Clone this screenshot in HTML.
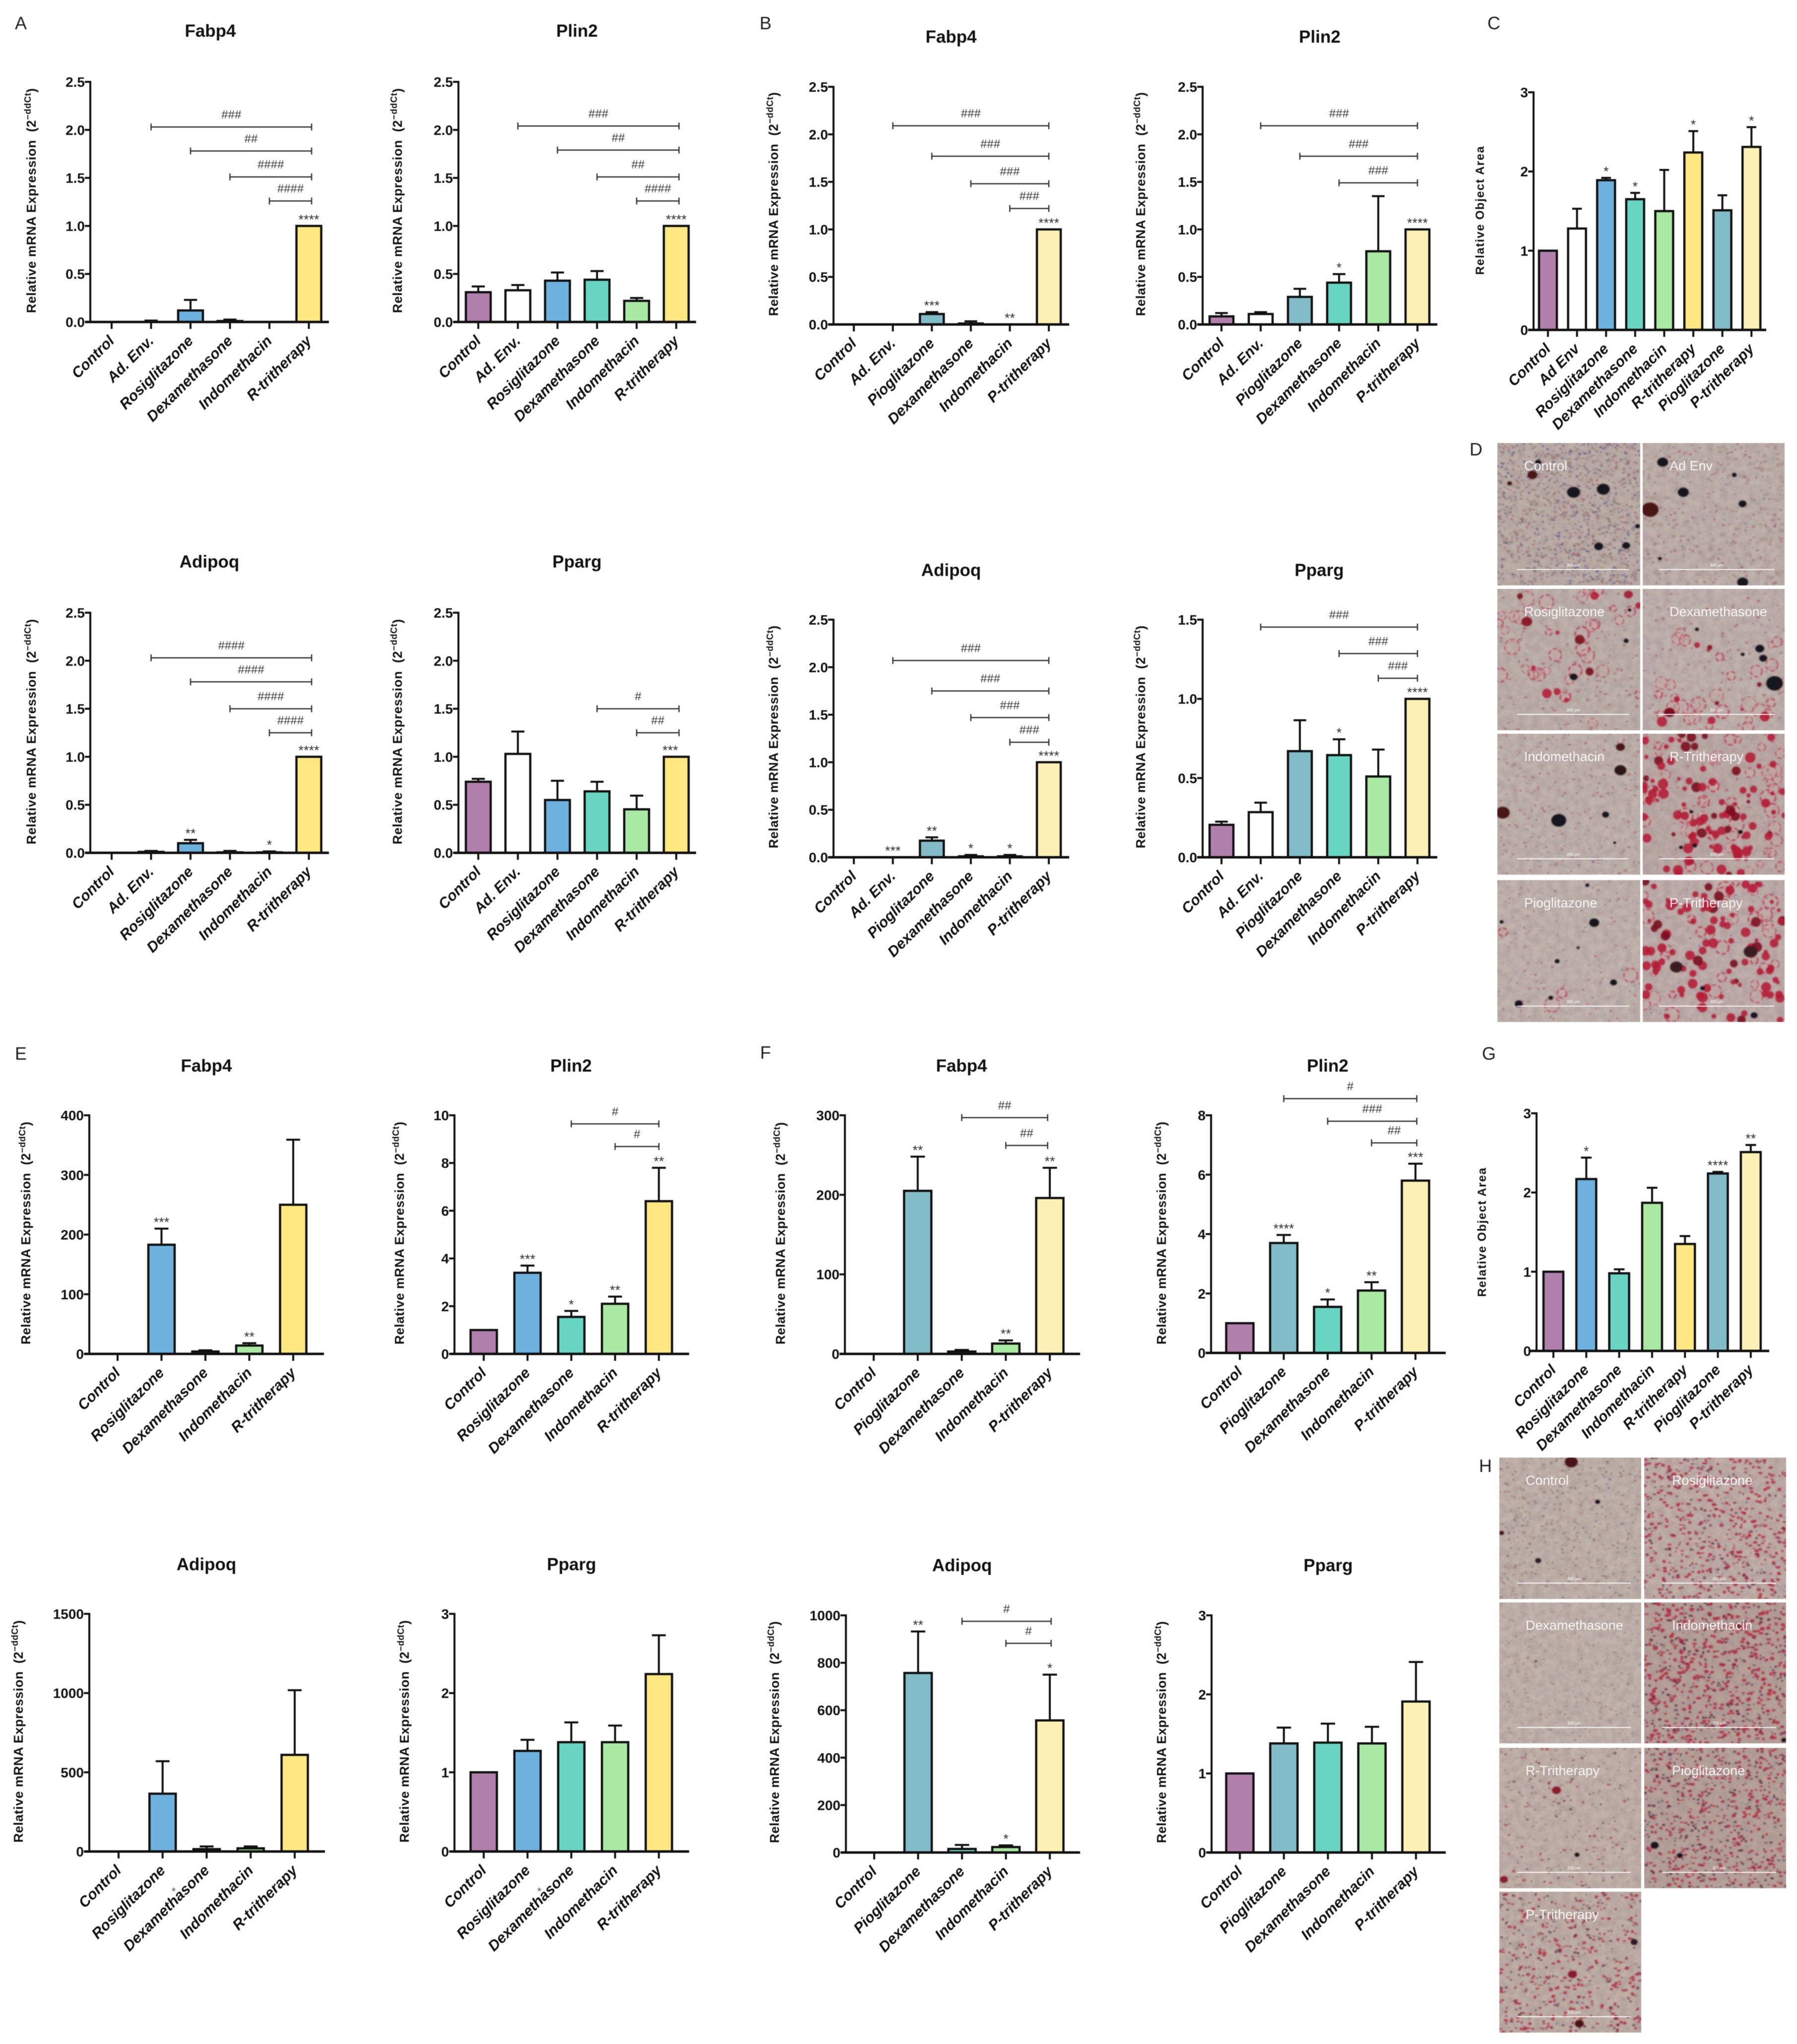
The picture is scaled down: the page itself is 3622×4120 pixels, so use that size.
<!DOCTYPE html>
<html lang="en">
<head>
<meta charset="utf-8">
<title>Adipogenesis gene expression figure</title>
<style>
html,body{margin:0;padding:0;background:#fff}
#figure{display:block;filter:blur(.6px)}
text{font-family:"Liberation Sans",sans-serif}
</style>
</head>
<body>
<svg id="figure" xmlns="http://www.w3.org/2000/svg" width="3622" height="4120" viewBox="0 0 3622 4120">
<defs>
<filter id="photoBlur" x="-5%" y="-5%" width="110%" height="110%"><feGaussianBlur stdDeviation="1.3"/></filter>
<filter id="grain" x="0" y="0" width="100%" height="100%">
<feTurbulence type="fractalNoise" baseFrequency="0.07" numOctaves="3" seed="4"/>
<feColorMatrix type="matrix" values="0 0 0 0 0.33  0 0 0 0 0.24  0 0 0 0 0.26  1.4 0 0 0 -0.42"/>
</filter>
</defs>
<rect width="3622" height="4120" fill="#fff"/>
<text x="30" y="59" font-size="36" fill="#222">A</text>
<text x="1531" y="59" font-size="36" fill="#222">B</text>
<text x="2998" y="59" font-size="36" fill="#222">C</text>
<text x="2962" y="918" font-size="36" fill="#222">D</text>
<text x="30" y="2136" font-size="36" fill="#222">E</text>
<text x="1532" y="2134" font-size="36" fill="#222">F</text>
<text x="2987" y="2136" font-size="36" fill="#222">G</text>
<text x="2981" y="2967" font-size="36" fill="#222">H</text>
<g id="charts"></g>
<g id="photos"></g>
</svg>
<script>
/* ---------- categories ---------- */
const rCategories = ['Control','Ad. Env.','Rosiglitazone','Dexamethasone','Indomethacin','R-tritherapy'];
const pCategories = ['Control','Ad. Env.','Pioglitazone','Dexamethasone','Indomethacin','P-tritherapy'];
const cCategories = ['Control','Ad Env','Rosiglitazone','Dexamethasone','Indomethacin','R-tritherapy','Pioglitazone','P-tritherapy'];
const eCategories = ['Control','Rosiglitazone','Dexamethasone','Indomethacin','R-tritherapy'];
const fCategories = ['Control','Pioglitazone','Dexamethasone','Indomethacin','P-tritherapy'];
const gCategories = ['Control','Rosiglitazone','Dexamethasone','Indomethacin','R-tritherapy','Pioglitazone','P-tritherapy'];

/* ---------- y tick labels ---------- */
const ticks2p5 = ['0.0','0.5','1.0','1.5','2.0','2.5'];
const ticks1p5 = ['0.0','0.5','1.0','1.5'];
const ticks3 = ['0','1','2','3'];
const ticks400 = ['0','100','200','300','400'];
const ticks300 = ['0','100','200','300'];
const ticks10 = ['0','2','4','6','8','10'];
const ticks8 = ['0','2','4','6','8'];
const ticks1500 = ['0','500','1000','1500'];
const ticks1000 = ['0','200','400','600','800','1000'];

/* ---------- series values, error magnitudes ---------- */
const aFabp4Values = [0,0,0.12,0.01,0,1];
const aFabp4Errors = [0,0.015,0.11,0.015,0,0];
const aPlin2Values = [0.31,0.33,0.43,0.44,0.22,1];
const aPlin2Errors = [0.06,0.055,0.085,0.09,0.03,0];
const aAdipoqValues = [0,0.01,0.10,0.005,0.005,1];
const aAdipoqErrors = [0,0.01,0.035,0.015,0.01,0];
const aPpargValues = [0.74,1.03,0.55,0.64,0.453,1];
const aPpargErrors = [0.03,0.233,0.20,0.10,0.142,0];
const bFabp4Values = [0,0,0.11,0.01,0,1];
const bFabp4Errors = [0,0,0.02,0.023,0,0];
const bPlin2Values = [0.085,0.11,0.29,0.44,0.77,1];
const bPlin2Errors = [0.035,0.02,0.085,0.09,0.58,0];
const bAdipoqValues = [0,0,0.175,0.01,0.01,1];
const bAdipoqErrors = [0,0,0.035,0.015,0.015,0];
const bPpargValues = [0.205,0.285,0.67,0.645,0.51,1];
const bPpargErrors = [0.02,0.06,0.195,0.10,0.17,0];
const cAreaValues = [1,1.28,1.89,1.65,1.5,2.24,1.51,2.31];
const cAreaErrors = [0,0.25,0.03,0.08,0.52,0.27,0.19,0.25];
const eFabp4Values = [0,183,4,14,250];
const eFabp4Errors = [0,27,2,4,109];
const ePlin2Values = [1,3.4,1.55,2.1,6.4];
const ePlin2Errors = [0,0.3,0.25,0.3,1.4];
const eAdipoqValues = [0,365,15,20,610];
const eAdipoqErrors = [0,205,17,12,408];
const ePpargValues = [1,1.27,1.38,1.38,2.24];
const ePpargErrors = [0,0.14,0.25,0.21,0.49];
const fFabp4Values = [0,205,3,13,196];
const fFabp4Errors = [0,43,2,4,38];
const fPlin2Values = [1,3.7,1.55,2.1,5.8];
const fPlin2Errors = [0,0.27,0.25,0.28,0.57];
const fAdipoqValues = [0,757,15,23,557];
const fAdipoqErrors = [0,175,17,7,193];
const fPpargValues = [1,1.38,1.39,1.38,1.91];
const fPpargErrors = [0,0.2,0.24,0.21,0.5];
const gAreaValues = [1,2.17,0.98,1.87,1.35,2.24,2.51];
const gAreaErrors = [0,0.27,0.05,0.19,0.1,0.02,0.09];

/* ---------- significance: [fromCategory, toCategory, yValue, label] ---------- */
const aFabp4Brackets = [[1,5.07,2.03,'###'],[2,5.07,1.78,'##'],[3,5.07,1.51,'####'],[4,5.07,1.26,'####']];
const aPlin2Brackets = [[1,5.07,2.04,'###'],[2,5.07,1.79,'##'],[3,5.07,1.51,'##'],[4,5.07,1.26,'####']];
const aAdipoqBrackets = [[1,5.07,2.03,'####'],[2,5.07,1.78,'####'],[3,5.07,1.5,'####'],[4,5.07,1.25,'####']];
const aPpargBrackets = [[3,5.07,1.5,'#'],[4,5.07,1.25,'##']];
const bFabp4Brackets = [[1,5,2.09,'###'],[2,5,1.77,'###'],[3,5,1.48,'###'],[4,5,1.22,'###']];
const bPlin2Brackets = [[1,5,2.09,'###'],[2,5,1.77,'###'],[3,5,1.49,'###']];
const bAdipoqBrackets = [[1,5,2.07,'###'],[2,5,1.75,'###'],[3,5,1.47,'###'],[4,5,1.21,'###']];
const bPpargBrackets = [[1,5,1.453,'###'],[3,5,1.286,'###'],[4,5,1.13,'###']];
const ePlin2Brackets = [[2,4,9.64,'#'],[3,4,8.69,'#']];
const fFabp4Brackets = [[2,3.95,297,'##'],[3,3.95,262,'##']];
const fPlin2Brackets = [[1,4.03,8.56,'#'],[2,4.03,7.8,'###'],[3,4.03,7.07,'##']];
const fAdipoqBrackets = [[2,4.03,975,'#'],[3,4.03,882,'#']];

/* ---------- asterisks: [category, label] ---------- */
const aFabp4Stars = [[5,'****']];
const aPlin2Stars = [[5,'****']];
const aAdipoqStars = [[2,'**'],[4,'*'],[5,'****']];
const aPpargStars = [[4.85,'***']];
const bFabp4Stars = [[2,'***'],[4,'**'],[5,'****']];
const bPlin2Stars = [[3,'*'],[5,'****']];
const bAdipoqStars = [[1,'***'],[2,'**'],[3,'*'],[4,'*'],[5,'****']];
const bPpargStars = [[3,'*'],[5,'****']];
const cAreaStars = [[2,'*'],[3,'*'],[5,'*'],[7,'*']];
const eFabp4Stars = [[1,'***'],[3,'**']];
const ePlin2Stars = [[1,'***'],[2,'*'],[3,'**'],[4,'**']];
const fFabp4Stars = [[1,'**'],[3,'**'],[4,'**']];
const fPlin2Stars = [[1,'****'],[2,'*'],[3,'**'],[4,'***']];
const fAdipoqStars = [[1,'**'],[3,'*'],[4,'*']];
const gAreaStars = [[1,'*'],[5,'****'],[6,'**']];

/* ---------- styling ---------- */
const barFills = {
  'Control':'#b07fac','Ad. Env.':'#ffffff','Ad Env':'#ffffff','Rosiglitazone':'#6db1de',
  'Pioglitazone':'#82bcc8','Dexamethasone':'#67d5c2','Indomethacin':'#a9e9a3',
  'R-tritherapy':'#ffe781','P-tritherapy':'#fdf0b4'
};
const NS = 'http://www.w3.org/2000/svg';
function mk(parent, tag, attrs, txt) {
  const n = document.createElementNS(NS, tag);
  for (const k in attrs) n.setAttribute(k, attrs[k]);
  if (txt !== undefined) n.textContent = txt;
  parent.appendChild(n);
  return n;
}
const slug = s => s.toLowerCase().replace(/[^a-z0-9]+/g, '-').replace(/-+$/, '');
const chartsRoot = document.getElementById('charts');

function drawChart(c) {
  const g = mk(chartsRoot, 'g', {});
  
  
  const ymax = parseFloat(c.ticks[c.ticks.length - 1]);
  const y = v => c.base - (v / ymax) * (c.base - c.top);
  const x = i => c.tick0 + i * c.step;
  const capHalf = c.barW * 0.25;

  if (c.title) {
    const t = mk(g, 'text', {x: c.titleX, y: c.titleY, 'font-size': 35, 'font-weight': 700, 'text-anchor': 'middle', fill: '#111'}, c.title);
    
    
  }

  /* y title */
  const mid = (c.spanTop + c.spanBottom) / 2;
  const len = c.spanBottom - c.spanTop;
  const yt = mk(g, 'text', {
    transform: 'translate(' + (c.yTitleX + 10) + ',' + mid + ') rotate(-90)',
    'text-anchor': 'middle', 'font-size': c.title ? 26 : 24, 'font-weight': 700, fill: '#111',
    textLength: len, lengthAdjust: 'spacing'
  });
  
  
  if (c.title) {
    mk(yt, 'tspan', {}, 'Relative mRNA Expression\u00a0\u00a0(2');
    mk(yt, 'tspan', {dy: -10, 'font-size': 18}, '\u2212ddCt');
    mk(yt, 'tspan', {dy: 10}, ')');
  } else {
    yt.textContent = 'Relative Object Area';
  }

  /* bars and error bars */
  c.values.forEach((v, i) => {
    const cat = c.categories[i];
    const cx = x(i);
    const err = c.errors[i];
    if (err > 0) {
      const eb = mk(g, 'path', {
        d: 'M' + cx + ' ' + y(v) + 'V' + y(v + err) + 'M' + (cx - capHalf) + ' ' + y(v + err) + 'H' + (cx + capHalf),
        stroke: '#111', 'stroke-width': 4, fill: 'none'
      });
      
      
    }
    if (v > 0) {
      const b = mk(g, 'rect', {
        x: cx - c.barW / 2 + 1.5, y: y(v), width: c.barW - 3, height: c.base - y(v),
        fill: barFills[cat], stroke: '#111', 'stroke-width': 4.5
      });
      
      
    }
  });

  /* axes */
  const ya = mk(g, 'line', {x1: c.axisX, x2: c.axisX, y1: c.top - 2, y2: c.base, stroke: '#111', 'stroke-width': 4});
  
  
  const xa = mk(g, 'line', {x1: c.axisStart, x2: c.axisEnd, y1: c.base, y2: c.base, stroke: '#111', 'stroke-width': 5});
  
  

  c.ticks.forEach(label => {
    const v = parseFloat(label);
    mk(g, 'line', {x1: c.axisX - 11, x2: c.axisX, y1: y(v), y2: y(v), stroke: '#111', 'stroke-width': 4});
    const tl = mk(g, 'text', {x: c.axisX - 11, y: y(v) + 10, 'text-anchor': 'end', 'font-size': 28, 'font-weight': 700, fill: '#111'}, label);
    
    
  });

  c.categories.forEach((cat, i) => {
    mk(g, 'line', {x1: x(i), x2: x(i), y1: c.base, y2: c.base + 14, stroke: '#111', 'stroke-width': 4});
    const lx = x(i) + 7, ly = c.base + 40;
    const tl = mk(g, 'text', {
      transform: 'translate(' + lx + ',' + ly + ') rotate(-45)',
      'text-anchor': 'end', 'font-size': 30, 'font-weight': 700, 'font-style': 'italic', fill: '#111'
    }, cat);
    
    
  });

  /* significance brackets */
  (c.brackets || []).forEach(br => {
    const x1 = x(br[0]), x2 = x(br[1]), by = y(br[2]);
    const p = mk(g, 'path', {
      d: 'M' + x1 + ' ' + (by - 7) + 'V' + (by + 7) + 'M' + x2 + ' ' + (by - 7) + 'V' + (by + 7) + 'M' + x1 + ' ' + by + 'H' + x2,
      stroke: '#333', 'stroke-width': 2.5, fill: 'none'
    });
    
    
    const t = mk(g, 'text', {x: (x1 + x2) / 2, y: by - 17, 'text-anchor': 'middle', 'font-size': 24, fill: '#333'}, br[3]);
    
    
  });

  /* asterisks */
  (c.stars || []).forEach(s => {
    const idx = Math.round(s[0]);
    const top = c.values[idx] + c.errors[idx];
    const t = mk(g, 'text', {x: x(s[0]), y: y(top) - 4, 'text-anchor': 'middle', 'font-size': 27, fill: '#333'}, s[1]);
    
    
  });
}

const colA1 = {axisX:182, axisStart:172, axisEnd:663, tick0:225, step:79.5, barW:53, yTitleX:62};
const colA2 = {axisX:924, axisStart:915, axisEnd:1403, tick0:964, step:79.8, barW:53, yTitleX:800};
const colB1 = {axisX:1680, axisStart:1669, axisEnd:2155, tick0:1721, step:78.6, barW:51, yTitleX:1558};
const colB2 = {axisX:2424, axisStart:2413, axisEnd:2897, tick0:2462, step:79, barW:51, yTitleX:2298};

drawChart(Object.assign({}, colA1, {id:'a-fabp4', title:'Fabp4', titleX:424, titleY:74, top:165, base:649, spanTop:178, spanBottom:631,
  categories:rCategories, values:aFabp4Values, errors:aFabp4Errors, ticks:ticks2p5, brackets:aFabp4Brackets, stars:aFabp4Stars}));
drawChart(Object.assign({}, colA2, {id:'a-plin2', title:'Plin2', titleX:1163, titleY:74, top:165, base:649, spanTop:178, spanBottom:631,
  categories:rCategories, values:aPlin2Values, errors:aPlin2Errors, ticks:ticks2p5, brackets:aPlin2Brackets, stars:aPlin2Stars}));
drawChart(Object.assign({}, colA1, {id:'a-adipoq', title:'Adipoq', titleX:422, titleY:1144, top:1235, base:1719, spanTop:1248, spanBottom:1702,
  categories:rCategories, values:aAdipoqValues, errors:aAdipoqErrors, ticks:ticks2p5, brackets:aAdipoqBrackets, stars:aAdipoqStars}));
drawChart(Object.assign({}, colA2, {id:'a-pparg', title:'Pparg', titleX:1163, titleY:1144, top:1235, base:1719, spanTop:1248, spanBottom:1702,
  categories:rCategories, values:aPpargValues, errors:aPpargErrors, ticks:ticks2p5, brackets:aPpargBrackets, stars:aPpargStars}));

drawChart(Object.assign({}, colB1, {id:'b-fabp4', title:'Fabp4', titleX:1917, titleY:86, top:175, base:654, spanTop:186, spanBottom:637,
  categories:pCategories, values:bFabp4Values, errors:bFabp4Errors, ticks:ticks2p5, brackets:bFabp4Brackets, stars:bFabp4Stars}));
drawChart(Object.assign({}, colB2, {id:'b-plin2', title:'Plin2', titleX:2660, titleY:86, top:175, base:654, spanTop:186, spanBottom:637,
  categories:pCategories, values:bPlin2Values, errors:bPlin2Errors, ticks:ticks2p5, brackets:bPlin2Brackets, stars:bPlin2Stars}));
drawChart(Object.assign({}, colB1, {id:'b-adipoq', title:'Adipoq', titleX:1917, titleY:1161, top:1249, base:1728, spanTop:1261, spanBottom:1710,
  categories:pCategories, values:bAdipoqValues, errors:bAdipoqErrors, ticks:ticks2p5, brackets:bAdipoqBrackets, stars:bAdipoqStars}));
drawChart(Object.assign({}, colB2, {id:'b-pparg', title:'Pparg', titleX:2659, titleY:1161, top:1249, base:1728, spanTop:1261, spanBottom:1710,
  categories:pCategories, values:bPpargValues, errors:bPpargErrors, ticks:ticks1p5, brackets:bPpargBrackets, stars:bPpargStars}));

drawChart({id:'c-object-area', axisX:3091, axisStart:3080, axisEnd:3560, tick0:3120, step:58.6, barW:39, yTitleX:2981, top:186, base:665, spanTop:295, spanBottom:554,
  categories:cCategories, values:cAreaValues, errors:cAreaErrors, ticks:ticks3, stars:cAreaStars});

drawChart({id:'e-fabp4', title:'Fabp4', titleX:416, titleY:2160, axisX:180, axisStart:170, axisEnd:653, tick0:237, step:88.5, barW:56, yTitleX:51, top:2248, base:2729, spanTop:2261, spanBottom:2710,
  categories:eCategories, values:eFabp4Values, errors:eFabp4Errors, ticks:ticks400, stars:eFabp4Stars});
drawChart({id:'e-plin2', title:'Plin2', titleX:1151, titleY:2160, axisX:916, axisStart:907, axisEnd:1389, tick0:975, step:88.25, barW:56, yTitleX:804, top:2248, base:2729, spanTop:2261, spanBottom:2710,
  categories:eCategories, values:ePlin2Values, errors:ePlin2Errors, ticks:ticks10, brackets:ePlin2Brackets, stars:ePlin2Stars});
drawChart({id:'e-adipoq', title:'Adipoq', titleX:416, titleY:3165, axisX:180, axisStart:170, axisEnd:655, tick0:239, step:88.75, barW:56, yTitleX:36, top:3253, base:3732, spanTop:3266, spanBottom:3714,
  categories:eCategories, values:eAdipoqValues, errors:eAdipoqErrors, ticks:ticks1500});
drawChart({id:'e-pparg', title:'Pparg', titleX:1152, titleY:3165, axisX:916, axisStart:907, axisEnd:1389, tick0:975, step:88.25, barW:56, yTitleX:814, top:3253, base:3732, spanTop:3266, spanBottom:3714,
  categories:eCategories, values:ePpargValues, errors:ePpargErrors, ticks:ticks3});

drawChart({id:'f-fabp4', title:'Fabp4', titleX:1938, titleY:2160, axisX:1703, axisStart:1692, axisEnd:2177, tick0:1761, step:88.75, barW:58, yTitleX:1572, top:2248, base:2729, spanTop:2262, spanBottom:2710,
  categories:fCategories, values:fFabp4Values, errors:fFabp4Errors, ticks:ticks300, brackets:fFabp4Brackets, stars:fFabp4Stars});
drawChart({id:'f-plin2', title:'Plin2', titleX:2676, titleY:2160, axisX:2441, axisStart:2430, axisEnd:2914, tick0:2499, step:88.5, barW:58, yTitleX:2340, top:2248, base:2727, spanTop:2261, spanBottom:2710,
  categories:fCategories, values:fPlin2Values, errors:fPlin2Errors, ticks:ticks8, brackets:fPlin2Brackets, stars:fPlin2Stars});
drawChart({id:'f-adipoq', title:'Adipoq', titleX:1939, titleY:3167, axisX:1705, axisStart:1695, axisEnd:2177, tick0:1762, step:88.5, barW:58, yTitleX:1560, top:3256, base:3734, spanTop:3268, spanBottom:3715,
  categories:fCategories, values:fAdipoqValues, errors:fAdipoqErrors, ticks:ticks1000, brackets:fAdipoqBrackets, stars:fAdipoqStars});
drawChart({id:'f-pparg', title:'Pparg', titleX:2677, titleY:3167, axisX:2442, axisStart:2433, axisEnd:2914, tick0:2499, step:88.75, barW:58, yTitleX:2340, top:3256, base:3734, spanTop:3268, spanBottom:3715,
  categories:fCategories, values:fPpargValues, errors:fPpargErrors, ticks:ticks3});

drawChart({id:'g-object-area', axisX:3097, axisStart:3083, axisEnd:3566, tick0:3131, step:66.3, barW:43, yTitleX:2985, top:2244, base:2723, spanTop:2354, spanBottom:2614,
  categories:gCategories, values:gAreaValues, errors:gAreaErrors, ticks:ticks3, stars:gAreaStars});

/* stray asterisks sitting on the Dexamethasone labels in panel E bottom row */
[[350,3820],[1087,3820]].forEach(pos => {
  const st = mk(chartsRoot, 'text', {x: pos[0], y: pos[1], 'text-anchor': 'middle', 'font-size': 22, fill: '#555'}, '*');
  
  
});

/* ---------- micrographs (illustrative texture, not chart data) ---------- */
const photosRoot = document.getElementById('photos');
function prng(seed) {
  return function () {
    seed |= 0; seed = seed + 0x6D2B79F5 | 0;
    let t = Math.imul(seed ^ seed >>> 15, 1 | seed);
    t = t + Math.imul(t ^ t >>> 7, 61 | t) ^ t;
    return ((t ^ t >>> 14) >>> 0) / 4294967296;
  };
}
const dark = '#14141f', brown = '#4a1712', crim = '#b51c36';
function drawPhoto(p, idx) {
  const r = prng(idx * 7919 + 13);
  const w = p.x2 - p.x1, h = p.y2 - p.y1;
  const g = mk(photosRoot, 'g', {});
  
  
  const s = mk(g, 'svg', {x: p.x1, y: p.y1, width: w, height: h, viewBox: '0 0 ' + w + ' ' + h});
  mk(s, 'rect', {width: w, height: h, fill: p.base});
  mk(s, 'rect', {width: w, height: h, filter: 'url(#grain)', opacity: 0.55});
  const inner = mk(s, 'g', {filter: 'url(#photoBlur)'});
  const spk = p.speckle || [];
  spk.forEach(set => {
    for (let i = 0; i < set[0]; i++) {
      mk(inner, 'ellipse', {cx: r() * w, cy: r() * h, rx: set[2] * (0.6 + r()), ry: set[2] * (0.4 + 0.7 * r()), fill: set[1], opacity: set[3] || 0.7});
    }
  });
  const [ringCount, fillCount] = [p.rings || 0, p.fills || 0];
  const zone = p.zone || [0, 0, 1, 1];
  for (let i = 0; i < ringCount; i++) {
    mk(inner, 'circle', {cx: (zone[0] + r() * (zone[2] - zone[0])) * w, cy: (zone[1] + r() * (zone[3] - zone[1])) * h, r: 6 + r() * 9, fill: '#c9a6a2', 'fill-opacity': 0.35, stroke: '#bb3c55', 'stroke-width': 1.5 + r() * 2.5, 'stroke-dasharray': '9 4', opacity: .8});
  }
  for (let i = 0; i < fillCount; i++) {
    mk(inner, 'circle', {cx: (zone[0] + r() * (zone[2] - zone[0])) * w, cy: (zone[1] + r() * (zone[3] - zone[1])) * h, r: 3.5 + r() * 7, fill: r() > 0.2 ? crim : '#7a1020', opacity: .9});
  }
  (p.blobs || []).forEach(b => {
    mk(inner, 'ellipse', {cx: p.zx(b[0]) - p.x1, cy: p.zy(b[1]) - p.y1, rx: b[2], ry: b[2] * 0.85, fill: b[3] || dark});
  });
  const lab = mk(g, 'text', {x: p.labelX, y: p.y1 + 55, 'font-size': 27, fill: '#fff', 'fill-opacity': 0.9}, p.label);
  
  
  const sb = mk(g, 'line', {x1: p.barX1, x2: p.barX2, y1: p.y2 - 32, y2: p.y2 - 32, stroke: '#fff', 'stroke-width': 2, opacity: .9});
  
  
  const sbt = mk(g, 'text', {x: (p.barX1 + p.barX2) / 2, y: p.y2 - 38, 'text-anchor': 'middle', 'font-size': 8, fill: '#fff'}, '300 \u00b5m');
  
  
}
const dx = z => 2900 + z * 0.4605, dy = z => 860 + z * 0.778;
const hx = z => 2900 + z * 0.4605, hy = z => 2920 + z * 0.765;
const D1 = {x1:3018, x2:3306, labelX:3072, barX1:3058, barX2:3284, zx:dx, zy:dy};
const D2 = {x1:3311, x2:3597, labelX:3365, barX1:3344, barX2:3576, zx:dx, zy:dy};
const H1 = {x1:3022, x2:3308, labelX:3075, barX1:3058, barX2:3287, zx:hx, zy:hy};
const H2 = {x1:3314, x2:3600, labelX:3370, barX1:3350, barX2:3580, zx:hx, zy:hy};
const pinkSpk = '#a8606f', blueSpk = '#4f4b80', tanSpk = '#8f7a70', redSpk = '#b3283f', darkSpk = '#5a2438';
const photoPanels = [
  Object.assign({}, D1, {y1:893, y2:1180, label:'Control', base:'#bcafa7', speckle:[[520,blueSpk,1.9],[420,tanSpk,2.6],[220,pinkSpk,2.2]],
    blobs:[[590,170,13],[720,162,13],[410,125,10,brown],[700,310,9],[820,308,8],[435,92,6],[870,258,5],[310,147,5,brown]]}),
  Object.assign({}, D2, {y1:893, y2:1180, label:'Ad Env', base:'#beb2ab', speckle:[[170,pinkSpk,2.4],[70,blueSpk,1.4],[120,'#a89288',4]],
    blobs:[[980,92,11],[1070,170,11],[1293,125,5],[1330,200,8],[925,215,17,brown],[968,342,4],[1330,403,11]]}),
  Object.assign({}, D1, {y1:1187, y2:1472, label:'Rosiglitazone', base:'#bdb1aa', speckle:[[90,pinkSpk,2.8],[30,blueSpk,1.4]], rings:34, fills:10,
    blobs:[[590,648,8],[835,475,4],[820,555,5],[385,505,11,'#8a1e2e'],[830,435,9,'#a5283c']]}),
  Object.assign({}, D2, {y1:1187, y2:1472, label:'Dexamethasone', base:'#bfb2ac', speckle:[[90,pinkSpk,2.5]], rings:30, fills:10, zone:[0.1,0.3,1,1],
    blobs:[[1405,575,9],[1420,600,8],[1470,665,17],[1130,525,4],[1330,590,4],[1010,740,11,'#7a1020']]}),
  Object.assign({}, D1, {y1:1479, y2:1763, label:'Indomethacin', base:'#bfb3ac', speckle:[[210,pinkSpk,2.2],[30,blueSpk,1.3]],
    blobs:[[525,1020,15],[280,1000,14,brown],[795,830,9,brown],[795,890,12,'#2a1218'],[730,1005,7],[770,1078,3]]}),
  Object.assign({}, D2, {y1:1479, y2:1763, label:'R-Tritherapy', base:'#bcaaa5', speckle:[[50,pinkSpk,2.5]], rings:48, fills:95,
    blobs:[[1105,998,4],[1060,1090,4],[1120,1085,5],[1320,1050,5]]}),
  Object.assign({}, D1, {y1:1774, y2:2060, label:'Pioglitazone', base:'#c0b4ad', speckle:[[120,pinkSpk,2],[30,blueSpk,1.3]], rings:4,
    blobs:[[680,1285,10],[518,1385,5],[765,1440,7],[490,1480,5],[350,1495,8],[275,1283,4],[650,1188,4],[610,1350,3]]}),
  Object.assign({}, D2, {y1:1774, y2:2060, label:'P-Tritherapy', base:'#bfaeaa', speckle:[[60,blueSpk,1.4]], rings:30, fills:100,
    blobs:[[1040,1400,13,'#3a1a20'],[1365,1360,14,'#3a1a20'],[1155,1455,5],[1380,1525,7]]}),

  Object.assign({}, H1, {y1:2938, y2:3223, label:'Control', base:'#c0b3aa', speckle:[[240,tanSpk,2.4],[90,blueSpk,1.5],[90,pinkSpk,1.8]],
    blobs:[[580,35,13,brown],[695,140,5],[435,295,6,'#2a1a20'],[275,222,5,brown]]}),
  Object.assign({}, H2, {y1:2938, y2:3223, label:'Rosiglitazone', base:'#c0aea7', speckle:[[400,redSpk,3,.85],[170,darkSpk,2.3,.75],[90,blueSpk,1.5]]}),
  Object.assign({}, H1, {y1:3230, y2:3514, label:'Dexamethasone', base:'#c1b4ac', speckle:[[200,tanSpk,2.4,.5],[40,pinkSpk,1.6]],
    blobs:[[425,560,2]]}),
  Object.assign({}, H2, {y1:3230, y2:3514, label:'Indomethacin', base:'#b6a098', speckle:[[420,redSpk,3.4,.85],[320,darkSpk,2.4,.8],[90,blueSpk,1.5]],
    blobs:[[1510,768,5]]}),
  Object.assign({}, H1, {y1:3523, y2:3806, label:'R-Tritherapy', base:'#c1b2a9', speckle:[[160,tanSpk,2.3,.6],[80,darkSpk,2,.7],[40,redSpk,2.5]],
    blobs:[[605,1070,5],[515,900,9,'#8a1e2e'],[285,1135,8,'#8a1e2e']]}),
  Object.assign({}, H2, {y1:3523, y2:3806, label:'Pioglitazone', base:'#b6a299', speckle:[[380,redSpk,2.8,.85],[340,darkSpk,2.3,.8],[90,blueSpk,1.5]],
    blobs:[[945,1045,8],[1055,1072,6]]}),
  Object.assign({}, H1, {y1:3813, y2:4097, label:'P-Tritherapy', base:'#bfafa6', speckle:[[260,redSpk,3,.85],[220,darkSpk,2.2,.75],[80,tanSpk,3,.5]],
    blobs:[[855,1300,7,'#2a1a20'],[615,1515,9,brown],[585,1385,9,'#8a1e2e']]})
];
photoPanels.forEach(drawPhoto);
</script>
</body>
</html>
